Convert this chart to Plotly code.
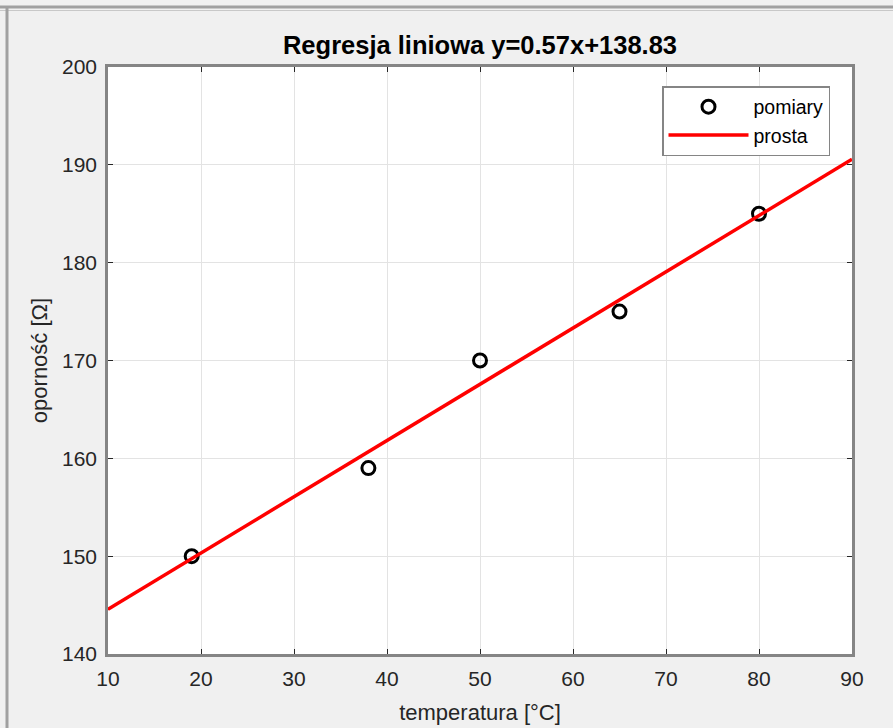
import numpy as np
import plotly.graph_objects as go

# data
temperature = [19, 38, 50, 65, 80]
resistance = [150, 159, 170, 175, 185]
fit_x = [10, 90]
x_ticks = [10, 20, 30, 40, 50, 60, 70, 80, 90]
y_ticks = [140, 150, 160, 170, 180, 190, 200]

slope, intercept = np.polyfit(temperature, resistance, 1)
fit_y = [slope * x + intercept for x in fit_x]

W, H = 893, 728
L, R, T, B = 108, 41, 67, 74
PW, PH = W - L - R, H - T - B

fig = go.Figure()
fig.add_trace(go.Scatter(
    x=temperature, y=resistance, mode="markers", name="pomiary",
    marker=dict(symbol="circle-open", size=13, color="black", line=dict(width=3, color="black")),
))
fig.add_trace(go.Scatter(
    x=fit_x, y=fit_y, mode="lines", name="prosta",
    line=dict(color="#ff0000", width=3.5),
))

font = "Liberation Sans, Arial, Helvetica, sans-serif"
axis_common = dict(
    showline=True, linecolor="#858585", linewidth=2.5, mirror="ticks",
    ticks="inside", ticklen=5, tickwidth=1.2, tickcolor="#262626",
    showgrid=True, gridcolor="#e3e3e3", gridwidth=1, zeroline=False,
    tickfont=dict(family=font, size=21, color="#262626"),
    automargin=False, ticklabelstandoff=4,
)

fig.update_layout(
    width=W, height=H,
    margin=dict(l=L, r=R, t=T, b=B, autoexpand=False),
    paper_bgcolor="#f0f0f0", plot_bgcolor="white",
    title=dict(text="<b>Regresja liniowa y=%.2fx+%.2f</b>" % (slope, intercept),
               x=(L + PW / 2) / W, xanchor="center", y=1 - 45 / H, yanchor="middle",
               font=dict(family=font, size=25.5, color="black")),
    xaxis=dict(range=[10, 90], tickvals=x_ticks, **axis_common,
               title=dict(text="temperatura [°C]", font=dict(family=font, size=22, color="#262626"), standoff=16)),
    yaxis=dict(range=[140, 200], tickvals=y_ticks, **axis_common,
               title=dict(text="oporność [Ω]", font=dict(family=font, size=22, color="#262626"), standoff=9)),
    legend=dict(x=(830 - L) / PW, xanchor="right", y=1 - (86 - T) / PH, yanchor="top",
                bgcolor="white", bordercolor="#858585", borderwidth=1.5,
                font=dict(family=font, size=19.5, color="black"), itemwidth=80,
                tracegroupgap=0),
    showlegend=True,
)

# window frame lines
fig.add_shape(type="line", xref="paper", yref="paper",
              x0=-L / PW, x1=(W - L) / PW,
              y0=1 + (T - 7) / PH, y1=1 + (T - 7) / PH,
              line=dict(color="#a0a0a0", width=3))
fig.add_shape(type="line", xref="paper", yref="paper",
              x0=-L / PW, x1=(W - L) / PW,
              y0=1 + (T - 10.5) / PH, y1=1 + (T - 10.5) / PH,
              line=dict(color="#c8c8c8", width=1))
fig.add_shape(type="line", xref="paper", yref="paper",
              x0=-(L - 7) / PW, x1=-(L - 7) / PW,
              y0=1 + (T - 7) / PH, y1=-B / PH,
              line=dict(color="#a0a0a0", width=3))

fig.write_html("out.html")
